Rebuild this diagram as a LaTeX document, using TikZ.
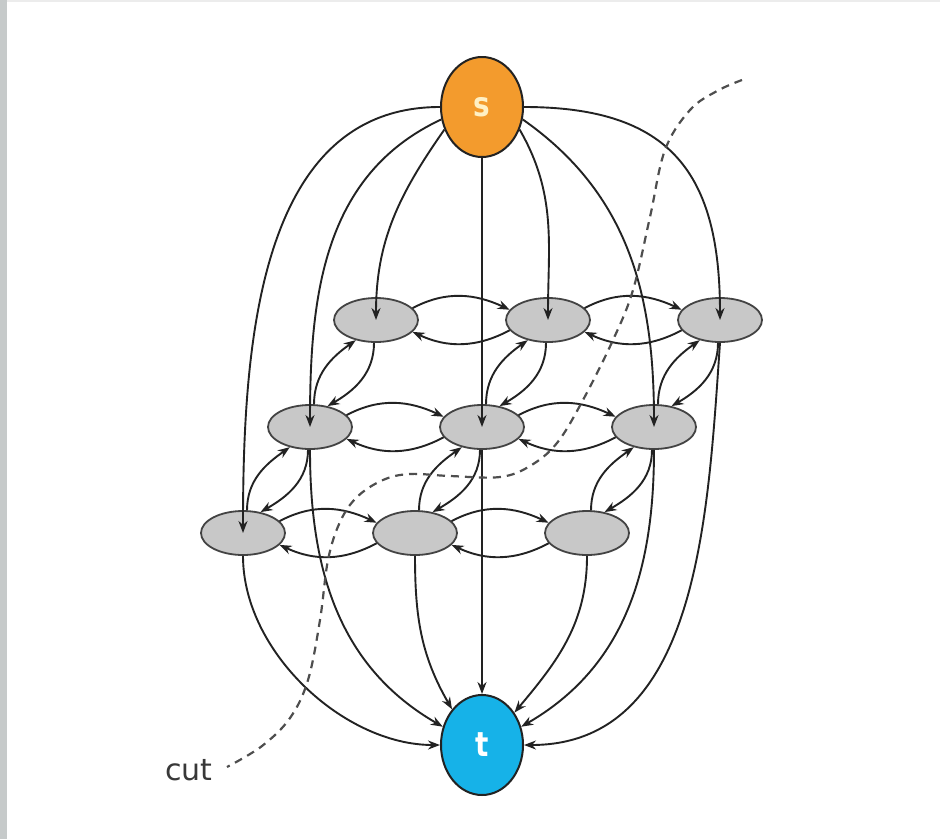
\documentclass[tikz,border=0pt]{standalone}
\usepackage{fontspec}
\newfontfamily\termfont[FakeStretch=0.82]{DejaVu Sans}
\newfontfamily\notefont{DejaVu Sans}
\usetikzlibrary{shapes.geometric,arrows.meta}

\definecolor{srcorange}{RGB}{243,155,45}
\definecolor{srctext}{RGB}{255,240,196}
\definecolor{sinkblue}{RGB}{22,178,232}
\definecolor{cellgray}{RGB}{200,200,200}
\definecolor{inkdark}{RGB}{34,34,34}
\definecolor{edgegray}{RGB}{198,202,202}

\tikzset{
  terminal/.style={ellipse, draw=inkdark, line width=2pt, minimum width=82pt,
    minimum height=100pt, inner sep=0pt, font=\termfont\bfseries\fontsize{34}{34}\selectfont},
  cell/.style={ellipse, draw=inkdark!85, line width=1.8pt, fill=cellgray,
    minimum width=84pt, minimum height=44pt, inner sep=0pt},
  flow/.style={draw=inkdark, line width=1.9pt, -{Stealth[length=12pt,width=9pt]}},
  cutline/.style={draw=inkdark!80, line width=2.2pt, dash pattern=on 8pt off 6pt},
}

\begin{document}
\begin{tikzpicture}[x=1pt,y=1pt]
  % page and frame
  \useasboundingbox (0,0) rectangle (940,-839);
  \fill[white] (0,0) rectangle (940,-839);
  \fill[gray!15] (0,0) rectangle (940,-2);
  \fill[edgegray] (0,0) rectangle (7,-839);

  % source and sink
  \node[terminal, fill=srcorange, text=srctext] (s) at (482,-107) {s};
  \node[terminal, fill=sinkblue, text=white] (t) at (482,-745) {t};

  % 3x3 grid of cells, each row shifted to the left
  \node[cell] (c11) at (376,-320) {};
  \node[cell] (c12) at (548,-320) {};
  \node[cell] (c13) at (720,-320) {};
  \node[cell] (c21) at (310,-427) {};
  \node[cell] (c22) at (482,-427) {};
  \node[cell] (c23) at (654,-427) {};
  \node[cell] (c31) at (243,-533) {};
  \node[cell] (c32) at (415,-533) {};
  \node[cell] (c33) at (587,-533) {};

  % edges leaving the source
  \draw[flow] (s.180) to[out=180,in=90] (c31.center);
  \draw[flow] (s.197) to[out=205,in=90] (c21.center);
  \draw[flow] (s.211) to[out=235,in=90] (c11.center);
  \draw[flow] (s.south) -- (c22.center);
  \draw[flow] (s.329) to[out=-60,in=90] (c12.center);
  \draw[flow] (s.343) to[out=-35,in=90] (c23.center);
  \draw[flow] (s.0) to[out=0,in=90,looseness=1.3] (c13.center);

  % edges entering the sink
  \draw[flow] (c31.south) to[out=-90,in=180,looseness=0.9] (t.180);
  \draw[flow] (c21.south) to[out=-90,in=150] (t.155);
  \draw[flow] (c32.south) to[out=-90,in=120] (t.130);
  \draw[flow] (c22.south) -- (t.north);
  \draw[flow] (c33.south) to[out=-90,in=50] (t.45);
  \draw[flow] (c23.south) to[out=-90,in=30] (t.25);
  \draw[flow] (c13.south) to[out=-94,in=0] (t.0);

  % horizontal neighbours: rightward arc on top, leftward arc below
  \foreach \a/\b in {c11/c12,c12/c13,c21/c22,c22/c23,c31/c32,c32/c33}{
    \draw[flow] (\a.18) to[out=28,in=155] (\b.165);
    \draw[flow] (\b.195) to[out=208,in=-25] (\a.342);
  }

  % vertical neighbours: upward arc on the left, downward arc on the right
  \foreach \u/\l in {c11/c21,c12/c22,c13/c23,c21/c31,c22/c32,c23/c33}{
    \draw[flow] (\l.80) to[out=90,in=215] (\u.225);
    \draw[flow] (\u.265) to[out=-90,in=30] (\l.50);
  }

  % the cut
  \node[anchor=base west, text=inkdark!90, font=\notefont\fontsize{30}{30}\selectfont, inner sep=0pt] (cutlabel) at (165,-780) {cut};
  \draw[cutline] plot[smooth, tension=0.6] coordinates {
    (742,-80) (717,-91) (690,-110) (665,-150) (650,-217) (633,-290) (613,-340)
    (583,-400) (557,-443) (530,-466) (500,-477) (450,-476) (410,-474)
    (383,-480) (357,-497) (340,-522) (328,-560) (320,-620) (308,-680)
    (290,-718) (262,-746) (227,-767)};
\end{tikzpicture}
\end{document}
